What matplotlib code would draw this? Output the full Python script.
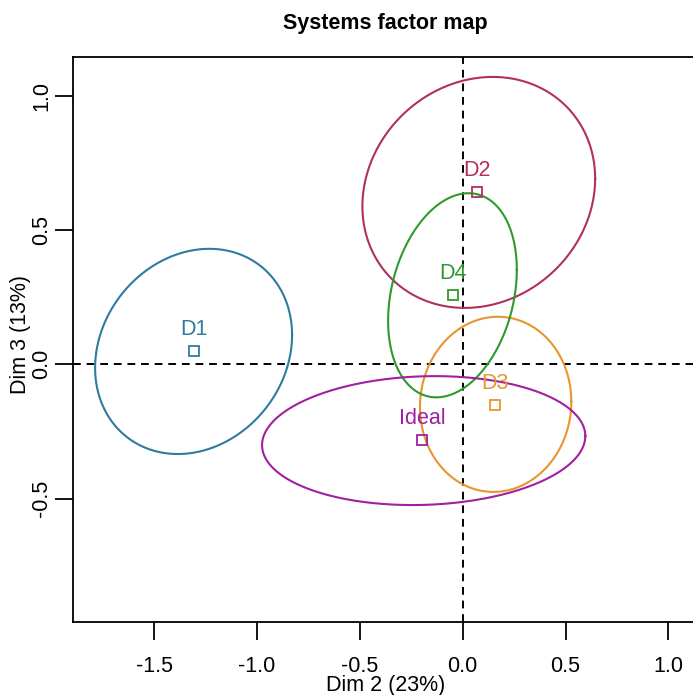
import numpy as np
import matplotlib
matplotlib.use("Agg")
import matplotlib.pyplot as plt

plt.rcParams['font.family'] = ['Liberation Sans', 'DejaVu Sans']

# ---- data ----
labels = ["D1", "D2", "D3", "D4", "Ideal"]
point_x = [-1.307, 0.070, 0.157, -0.047, -0.197]
point_y = [0.050, 0.641, -0.152, 0.258, -0.282]
# confidence ellipses: centre, half-width (x), half-height (y), correlation
ell_cx = [-1.309, 0.078, 0.160, -0.050, -0.190]
ell_cy = [0.048, 0.640, -0.149, 0.257, -0.284]
ell_a = [0.479, 0.566, 0.368, 0.313, 0.786]
ell_b = [0.382, 0.430, 0.326, 0.380, 0.240]
ell_rho = [0.16, 0.12, 0.03, 0.25, 0.07]
colors = ["#2F7BA0", "#B03060", "#E8952F", "#2E9A2E", "#A020A0"]

xticks = [-1.5, -1.0, -0.5, 0.0, 0.5, 1.0]
yticks = [-0.5, 0.0, 0.5, 1.0]
title = "Systems factor map"
xlabel = "Dim 2 (23%)"
ylabel = "Dim 3 (13%)"

W, H = 693, 695
fig = plt.figure(figsize=(W / 100, H / 100), dpi=100)
fig.patch.set_facecolor("white")
L, R, T, B = 73.3, 699.0, 57.3, 622.3
ax = fig.add_axes([L / W, 1 - B / H, (R - L) / W, (B - T) / H])
ax.set_xlim(-1.894, 1.149)
ax.set_ylim(-0.9605, 1.143)

t = np.linspace(0, 2 * np.pi, 400)
for i in range(len(labels)):
    ex = ell_cx[i] + ell_a[i] * np.cos(t)
    ey = ell_cy[i] + ell_b[i] * (ell_rho[i] * np.cos(t) + np.sqrt(1 - ell_rho[i] ** 2) * np.sin(t))
    ax.plot(ex, ey, color=colors[i], lw=1.5, zorder=2)
    ax.plot(point_x[i], point_y[i], marker="s", ms=6.5, mfc="none", mec=colors[i], mew=1.3, zorder=3)
    ax.annotate(labels[i], (point_x[i], point_y[i]), xytext=(0, 8), textcoords="offset points",
                ha="center", va="bottom", color=colors[i], fontsize=15.5, zorder=4)

ax.axhline(0, color="black", lw=1.4, ls=(0, (4, 3)), zorder=1)
ax.axvline(0, color="black", lw=1.4, ls=(0, (4, 3)), zorder=1)

for s in ax.spines.values():
    s.set_linewidth(1.3)
ax.set_xticks(xticks)
ax.set_xticklabels([f"{v:.1f}" for v in xticks])
ax.set_yticks(yticks)
ax.set_yticklabels([f"{v:.1f}" for v in yticks])
ax.tick_params(axis="both", length=13, width=1.3, labelsize=15.5, direction="out")
ax.tick_params(axis="x", pad=11)
ax.tick_params(axis="y", pad=2, labelrotation=90)
for lab in ax.get_yticklabels():
    lab.set_va("center")

fig.text(385 / W, 1 - 23 / H, title, ha="center", va="center", fontsize=15.5, fontweight="bold")
fig.text(386 / W, 1 - 686 / H, xlabel, ha="center", va="center", fontsize=15.5)
fig.text(21 / W, 1 - 335 / H, ylabel, ha="center", va="center", fontsize=15.5, rotation=90)

fig.savefig("out.png", dpi=100, facecolor="white")
